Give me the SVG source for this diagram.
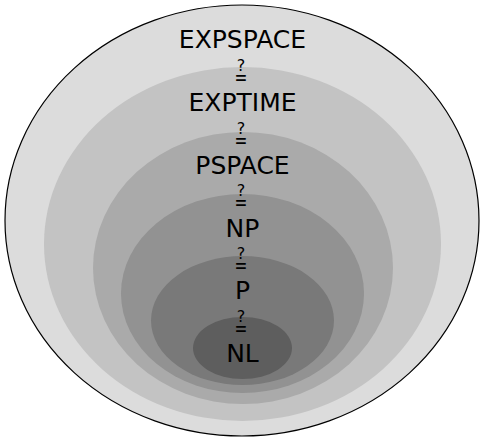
<svg xmlns="http://www.w3.org/2000/svg" width="485" height="441" viewBox="0 0 485 441">
<style>
text{font-family:"DejaVu Sans",sans-serif;text-anchor:middle;fill:#000}
.l{font-size:25px}
.q{font-size:16px}
.e{font-size:22px}
</style>
<defs>
<g id="qe">
<text class="q" x="0" y="0">?</text>
<text class="e" x="0" y="0" transform="translate(0,14) scale(0.7,1)">=</text>
</g>
</defs>
<rect width="485" height="441" fill="#fff"/>
<g id="expspace"><ellipse cx="242" cy="220.5" rx="237" ry="215.5" fill="#dcdcdc" stroke="#000" stroke-width="1.2"/></g>
<g id="exptime"><ellipse cx="242.5" cy="244" rx="198.5" ry="177" fill="#c3c3c3"/></g>
<g id="pspace"><ellipse cx="243" cy="268" rx="150" ry="136" fill="#aaaaaa"/></g>
<g id="np"><ellipse cx="242.5" cy="293.5" rx="121.5" ry="99.5" fill="#929292"/></g>
<g id="p"><ellipse cx="242.5" cy="320.5" rx="91.5" ry="64.5" fill="#797979"/></g>
<g id="nl"><ellipse cx="242.5" cy="348" rx="49.5" ry="31" fill="#5e5e5e"/></g>
<g id="labels">
<text class="l" x="242.5" y="47.5">EXPSPACE</text>
<use href="#qe" x="241" y="70.8"/>
<text class="l" x="242.5" y="110.5">EXPTIME</text>
<use href="#qe" x="241" y="133.6"/>
<text class="l" x="242.5" y="173.5">PSPACE</text>
<use href="#qe" x="241" y="196.4"/>
<text class="l" x="242.5" y="236.5">NP</text>
<use href="#qe" x="241" y="259.2"/>
<text class="l" x="242.5" y="299">P</text>
<use href="#qe" x="241" y="322"/>
<text class="l" x="242.5" y="361.5">NL</text>
</g>
</svg>
